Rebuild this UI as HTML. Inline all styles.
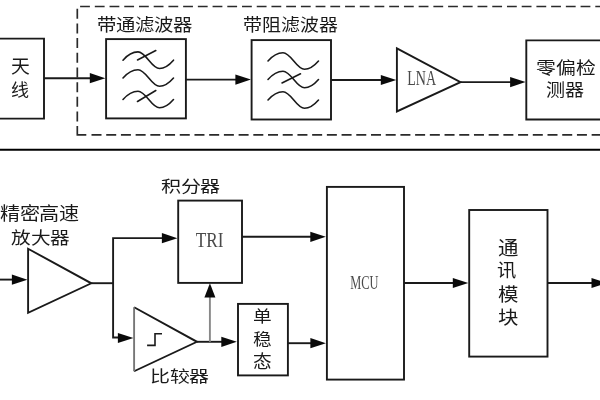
<!DOCTYPE html>
<html lang="zh-CN">
<head>
<meta charset="utf-8">
<style>
html,body{margin:0;padding:0;background:#fff;width:600px;height:400px;overflow:hidden;}
svg{position:absolute;left:0;top:0;filter:blur(0.3px);}
.cn{font-family:"Liberation Sans",sans-serif;fill:#1a1a1a;}
.en{font-family:"Liberation Serif",serif;fill:#4a4a4a;}
</style>
</head>
<body>
<svg width="600" height="400" viewBox="0 0 600 400">
<g fill="none" stroke="#1a1a1a" stroke-width="1.9" stroke-linejoin="miter">
<path d="M-5,38.6 H44 V118.6 H-5"/>
<path d="M80.10,6.5H89.90M94.82,6.5H104.62M109.54,6.5H119.34M124.26,6.5H134.06M138.98,6.5H148.78M153.70,6.5H163.50M168.42,6.5H178.22M183.14,6.5H192.94M197.86,6.5H207.66M212.58,6.5H222.38M227.30,6.5H237.10M242.02,6.5H251.82M256.74,6.5H266.54M271.46,6.5H281.26M286.18,6.5H295.98M300.90,6.5H310.70M315.62,6.5H325.42M330.34,6.5H340.14M345.06,6.5H354.86M359.78,6.5H369.58M374.50,6.5H384.30M389.22,6.5H399.02M403.94,6.5H413.74M418.66,6.5H428.46M433.38,6.5H443.18M448.10,6.5H457.90M462.82,6.5H472.62M477.54,6.5H487.34M492.26,6.5H502.06M506.98,6.5H516.78M521.70,6.5H531.50M536.42,6.5H546.22M551.14,6.5H560.94M565.86,6.5H575.66M580.58,6.5H590.38M595.30,6.5H601.00M76.5,134.8H86.3M91.50,134.8H101.50M106.21,134.8H116.21M120.92,134.8H130.92M135.63,134.8H145.63M150.34,134.8H160.34M165.05,134.8H175.05M179.76,134.8H189.76M194.47,134.8H204.47M209.18,134.8H219.18M223.89,134.8H233.89M238.60,134.8H248.60M253.31,134.8H263.31M268.02,134.8H278.02M282.73,134.8H292.73M297.44,134.8H307.44M312.15,134.8H322.15M326.86,134.8H336.86M341.57,134.8H351.57M356.28,134.8H366.28M370.99,134.8H380.99M385.70,134.8H395.70M400.41,134.8H410.41M415.12,134.8H425.12M429.83,134.8H439.83M444.54,134.8H454.54M459.25,134.8H469.25M473.96,134.8H483.96M488.67,134.8H498.67M503.38,134.8H513.38M518.09,134.8H528.09M532.80,134.8H542.80M547.51,134.8H557.51M562.22,134.8H572.22M576.93,134.8H586.93M591.64,134.8H601.00M77.3,8.75V18.75M77.3,23.43V33.43M77.3,38.11V48.11M77.3,52.79V62.79M77.3,67.47V77.47M77.3,82.15V92.15M77.3,96.83V106.83M77.3,111.51V121.51M77.3,126V134.8" stroke="#2a2a2a" stroke-width="1.7"/>
<rect x="106.1" y="39.1" width="79.8" height="79.3"/>
<rect x="251.6" y="40.1" width="79.4" height="79.4"/>
<polygon points="396.9,48.3 396.9,111.4 460.5,82.1"/>
<path d="M610,40.4 H526.3 V119.5 H610"/>
<path d="M44,78.2 H92"/>
<path d="M185.9,79.6 H237"/>
<path d="M331,80 H382"/>
<path d="M460.5,82.1 H512"/>
<path d="M0,149.8 H600" stroke="#000" stroke-width="2"/>
<g stroke-width="1.6" stroke-linecap="round">
<path d="M123,60.2 C127.0,55.6 132.0,51.9 138.0,51.9 C146.0,51.9 151.5,68.5 159.5,68.5 C165.5,68.5 169.5,64.8 173.5,60.2"/>
<path d="M123,78 C127.0,73.4 132.0,69.7 138.0,69.7 C146.0,69.7 151.5,86.3 159.5,86.3 C165.5,86.3 169.5,82.6 173.5,78"/>
<path d="M123,99.5 C127.0,94.9 132.0,91.2 138.0,91.2 C146.0,91.2 151.5,107.8 159.5,107.8 C165.5,107.8 169.5,104.1 173.5,99.5"/>
<path d="M268,61 C272.0,56.4 277.0,52.7 283.0,52.7 C291.0,52.7 296.5,69.3 304.5,69.3 C310.5,69.3 314.5,65.6 318.5,61"/>
<path d="M268,79.5 C272.0,74.9 277.0,71.2 283.0,71.2 C291.0,71.2 296.5,87.8 304.5,87.8 C310.5,87.8 314.5,84.1 318.5,79.5"/>
<path d="M268,100 C272.0,95.4 277.0,91.7 283.0,91.7 C291.0,91.7 296.5,108.3 304.5,108.3 C310.5,108.3 314.5,104.6 318.5,100"/>
<path d="M137.5,60 L155.8,50.5"/>
<path d="M137.5,101.5 L155.8,90.5"/>
<path d="M282,83 L300.5,73.8"/>
</g>
<polygon points="28.1,248.75 28.1,312.8 91.3,283.3"/>
<path d="M0,279.6 H14"/>
<path d="M91.3,283.2 H113.1"/>
<path d="M164,238.1 H113.1 V337.5 H120"/>
<rect x="178.2" y="200.6" width="63.8" height="82.3"/>
<path d="M242,236.7 H312"/>
<path d="M134.1,307.25 L197,341.8 L134.1,371.25"/>
<path d="M134.1,307.25 V371.25" stroke="#777" stroke-width="1.9"/>
<path d="M147.1,345.4 H155 V333.8 H162" stroke-width="1.6"/>
<path d="M197,341.8 H224"/>
<path d="M209.9,341.8 V296" stroke="#888" stroke-width="1.9"/>
<rect x="238" y="303.9" width="49.9" height="71.5"/>
<path d="M287.9,343.2 H312"/>
<rect x="326.9" y="186.9" width="77.1" height="192.7"/>
<path d="M404,283 H455"/>
<rect x="469.2" y="210" width="78.3" height="146.6"/>
<path d="M547.5,283 H594"/>
</g>
<g fill="#0a0a0a" stroke="none">
<polygon points="89.80,73.10 105.30,78.20 89.80,83.30"/>
<polygon points="235.40,74.50 250.90,79.60 235.40,84.70"/>
<polygon points="380.80,74.90 396.30,80.00 380.80,85.10"/>
<polygon points="510.10,77.00 525.60,82.10 510.10,87.20"/>
<polygon points="11.90,274.60 27.40,279.70 11.90,284.80"/>
<polygon points="161.90,233.10 177.40,238.20 161.90,243.30"/>
<polygon points="117.90,332.90 133.40,338.00 117.90,343.10"/>
<polygon points="310.30,231.70 325.80,236.80 310.30,241.90"/>
<polygon points="221.30,336.70 236.80,341.80 221.30,346.90"/>
<polygon points="204.4,297.6 209.9,283.2 215.4,297.6"/>
<polygon points="310.40,338.10 325.90,343.20 310.40,348.30"/>
<polygon points="452.80,277.90 468.30,283.00 452.80,288.10"/>
<polygon points="591.50,277.90 607.00,283.00 591.50,288.10"/>
</g>
<text class="cn" x="10.80" y="72.50" font-size="18.45" textLength="18.40" lengthAdjust="spacingAndGlyphs">天</text>
<text class="cn" x="10.50" y="95.50" font-size="16.84" textLength="18.18" lengthAdjust="spacingAndGlyphs">线</text>
<text class="cn" x="97.00" y="31.00" font-size="17.28" textLength="95.33" lengthAdjust="spacingAndGlyphs">带通滤波器</text>
<text class="cn" x="242.50" y="30.50" font-size="16.84" textLength="95.82" lengthAdjust="spacingAndGlyphs">带阻滤波器</text>
<text class="cn" x="536.40" y="74.10" font-size="17.13" textLength="59.15" lengthAdjust="spacingAndGlyphs">零偏检</text>
<text class="cn" x="546.20" y="96.40" font-size="17.08" textLength="37.97" lengthAdjust="spacingAndGlyphs">测器</text>
<text class="cn" x="0.00" y="220.30" font-size="18.41" textLength="78.73" lengthAdjust="spacingAndGlyphs">精密高速</text>
<text class="cn" x="11.00" y="244.30" font-size="17.04" textLength="58.78" lengthAdjust="spacingAndGlyphs">放大器</text>
<text class="cn" x="161.20" y="191.50" font-size="16.39" textLength="58.84" lengthAdjust="spacingAndGlyphs">积分器</text>
<text class="cn" x="150.40" y="381.50" font-size="16.39" textLength="58.45" lengthAdjust="spacingAndGlyphs">比较器</text>
<text class="cn" x="253.20" y="321.90" font-size="16.39" textLength="18.26" lengthAdjust="spacingAndGlyphs">单</text>
<text class="cn" x="253.20" y="344.50" font-size="16.39" textLength="18.20" lengthAdjust="spacingAndGlyphs">稳</text>
<text class="cn" x="253.20" y="368.00" font-size="18.38" textLength="18.26" lengthAdjust="spacingAndGlyphs">态</text>
<text class="cn" x="497.70" y="254.50" font-size="19.46" textLength="19.94" lengthAdjust="spacingAndGlyphs">通</text>
<text class="cn" x="497.20" y="276.60" font-size="18.38" textLength="18.89" lengthAdjust="spacingAndGlyphs">讯</text>
<text class="cn" x="497.70" y="300.50" font-size="18.25" textLength="20.14" lengthAdjust="spacingAndGlyphs">模</text>
<text class="cn" x="497.70" y="324.10" font-size="18.25" textLength="20.14" lengthAdjust="spacingAndGlyphs">块</text>
<text class="en" transform="translate(407.20,85.40) scale(1,1.3889)" x="0" y="0" font-size="14.81" textLength="28.86" lengthAdjust="spacingAndGlyphs">LNA</text>
<text class="en" transform="translate(195.70,246.90) scale(1,1.3889)" x="0" y="0" font-size="14.81" textLength="27.76" lengthAdjust="spacingAndGlyphs">TRI</text>
<text class="en" transform="translate(350.20,288.50) scale(1,1.3889)" x="0" y="0" font-size="13.07" textLength="28.23" lengthAdjust="spacingAndGlyphs">MCU</text>
</svg>
</body>
</html>
